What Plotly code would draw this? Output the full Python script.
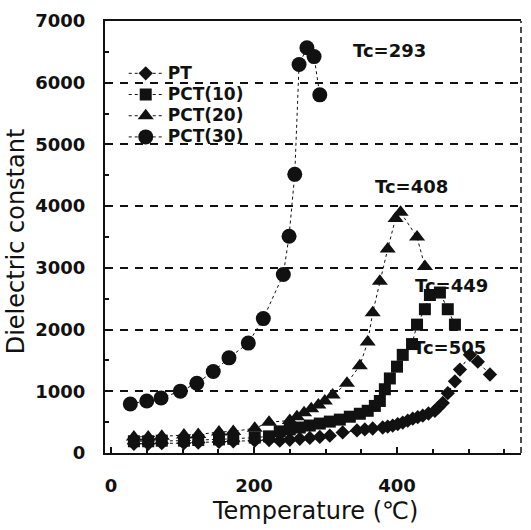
import plotly.graph_objects as go

# ---- data ----
pt_T = [32, 52, 71, 102, 122, 151, 171, 201, 221, 236, 250, 264, 278, 292, 306, 324, 344, 355, 366,
        380, 387, 394, 401, 408, 415, 422, 429, 436, 444, 453, 458, 464, 471, 481, 488, 502, 513, 530]
pt_D = [150, 150, 160, 160, 170, 180, 190, 200, 210, 200, 215, 230, 245, 260, 280, 334, 366, 382, 397,
        413, 428, 445, 468, 493, 523, 556, 580, 604, 640, 684, 740, 811, 970, 1161, 1351, 1590, 1479, 1272]

pct10_T = [32, 52, 71, 102, 122, 151, 171, 201, 221, 236, 250, 264, 278, 292, 306, 320, 334, 348, 359,
           369, 376, 383, 390, 400, 408, 421, 428, 439, 446, 460, 471, 481]
pct10_D = [190, 190, 200, 200, 210, 220, 230, 250, 270, 350, 382, 413, 445, 477, 509, 541, 588, 636, 684,
           763, 843, 1033, 1208, 1399, 1590, 1765, 2080, 2330, 2560, 2600, 2330, 2080]

pct20_T = [32, 52, 71, 102, 122, 151, 171, 201, 221, 250, 260, 270, 280, 290, 299, 310, 330, 348, 359,
           366, 376, 387, 398, 405, 428, 439]
pct20_D = [260, 260, 270, 290, 300, 340, 350, 400, 500, 525, 588, 652, 715, 779, 843, 938, 1129, 1415, 1797,
           2273, 2782, 3307, 3800, 3900, 3498, 3021]

pct30_T = [27, 50, 70, 97, 120, 143, 165, 192, 213, 241, 249, 257, 263, 274, 284, 292]
pct30_D = [795, 843, 890, 1002, 1129, 1320, 1542, 1781, 2178, 2893, 3513, 4515, 6296, 6566, 6423, 5803]

series_names = ["PT", "PCT(10)", "PCT(20)", "PCT(30)"]
tc_labels = ["Tc=293", "Tc=408", "Tc=449", "Tc=505"]
tc_T = [390, 420, 476, 474]
tc_D = [6520, 4324, 2719, 1717]

x_ticks = [0, 200, 400]
y_ticks = [0, 1000, 2000, 3000, 4000, 5000, 6000, 7000]

BOLD = dict(family="DejaVu Sans", size=18, color="#111", weight=700)

fig = go.Figure()
styles = [
    (pt_T, pt_D, "diamond", 11),
    (pct10_T, pct10_D, "square", 12),
    (pct20_T, pct20_D, "triangle-up", 14),
    (pct30_T, pct30_D, "circle", 15),
]
for name, (xs, ys, sym, sz) in zip(series_names, styles):
    fig.add_trace(go.Scatter(
        x=xs, y=ys, mode="lines+markers",
        name='<span style="font-size:17px">' + name + '</span>',
        line=dict(color="#111", width=1, dash="dot"),
        marker=dict(symbol=sym, size=sz, color="#111", line=dict(width=0)),
    ))

for txt, tx, ty in zip(tc_labels, tc_T, tc_D):
    fig.add_annotation(x=tx, y=ty, text=txt, showarrow=False,
                       xanchor="center", yanchor="middle", font=BOLD)

fig.add_annotation(xref="paper", yref="paper", x=0.505, y=-0.135,
                   text="Temperature (℃)", showarrow=False,
                   xanchor="center", yanchor="middle",
                   font=dict(family="DejaVu Sans", size=24, color="#111"))
fig.add_annotation(xref="paper", yref="paper", x=-0.214, y=0.49,
                   text="Dielectric constant", showarrow=False, textangle=-90,
                   xanchor="center", yanchor="middle",
                   font=dict(family="DejaVu Sans", size=24, color="#111"))

# dashed right border
fig.add_shape(type="line", xref="paper", yref="paper", x0=1, x1=1, y0=0, y1=1,
              line=dict(color="#111", width=1.5, dash="6px,4px"))

fig.update_xaxes(
    range=[-8.4, 573.4], tickvals=x_ticks, ticks="inside", ticklen=6, tickwidth=1.5,
    tickcolor="#111", showgrid=False, zeroline=False,
    showline=True, linecolor="#111", linewidth=2, mirror=True,
    tickfont=BOLD, ticklabelstandoff=15,
    minor=dict(dtick=50, ticks="inside", ticklen=4, tickcolor="#111", showgrid=False),
)
fig.update_yaxes(
    range=[0, 7000], tickvals=y_ticks, ticks="inside", ticklen=6, tickwidth=1.5,
    tickcolor="#111", showgrid=True, gridcolor="#111", gridwidth=1.5, griddash="8px,7px",
    zeroline=False, showline=True, linecolor="#111", linewidth=2, mirror=False,
    tickfont=BOLD, ticklabelstandoff=14,
    minor=dict(dtick=500, ticks="inside", ticklen=4, tickcolor="#111", showgrid=False),
)

fig.update_layout(
    width=531, height=530,
    margin=dict(l=105, r=10, t=12, b=77),
    paper_bgcolor="white", plot_bgcolor="white",
    showlegend=True,
    legend=dict(x=0.045, y=0.915, xanchor="left", yanchor="top",
                bgcolor="rgba(0,0,0,0)", borderwidth=0,
                font=dict(family="DejaVu Sans", size=14, color="#111", weight=700),
                itemsizing="trace", itemwidth=34, tracegroupgap=0),
)

fig.write_html("out.html")
